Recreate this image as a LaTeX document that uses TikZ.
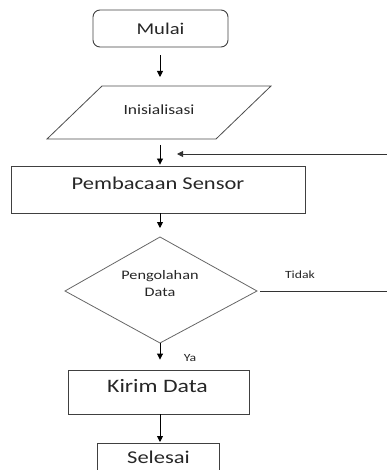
\documentclass[tikz,border=0pt]{standalone}
\usepackage{graphicx}
\usepackage{fontspec}
\setmainfont{Carlito}
\usetikzlibrary{arrows.meta,calc}
\newcommand{\wtxt}[2]{\fontsize{#1}{#1}\selectfont\scalebox{1.25}[1]{#2}}
\begin{document}
\begin{tikzpicture}[x=1pt,y=-1pt,
  box/.style={draw=black!75,line width=0.9pt,inner sep=0pt},
  shapeline/.style={draw=black!70,line width=0.8pt},
  txt/.style={inner sep=0pt,text=black!85},
  flow/.style={draw=black,line width=0.9pt,-{Triangle[length=6pt,width=6pt]}}]
\useasboundingbox (0,0) rectangle (387,470);
% Mulai
\node[box,rounded corners=7pt,minimum width=135pt,minimum height=37pt,txt,draw=black!75] (mulai) at (160.5,28.5) {\wtxt{16.5}{Mulai}};
% Inisialisasi (parallelogram)
\coordinate (iniN) at (160,86);
\coordinate (iniS) at (160,139);
\draw[shapeline] (102,86) -- (271,86) -- (216,139) -- (47,139) -- cycle;
\node[txt,anchor=base] (ini) at (159,115) {\wtxt{14}{Inisialisasi}};
% Pembacaan Sensor
\node[box,minimum width=294pt,minimum height=47pt] (baca) at (158,189.5) {};
\node[txt,anchor=base] (bacat) at (158,189.3) {\wtxt{18}{Pembacaan Sensor}};
% Diamond
\coordinate (dN) at (160,237);
\coordinate (dW) at (65,291);
\coordinate (dE) at (257,291);
\coordinate (dS) at (160,343);
\draw[shapeline,draw=black!60] (dN) -- (dE) -- (dS) -- (dW) -- cycle;
\node[txt,anchor=base] (olah1) at (160,279.5) {\wtxt{13}{Pengolahan}};
\node[txt,anchor=base] (olah2) at (160,296.5) {\wtxt{13}{Data}};
% Kirim Data
\node[box,minimum width=181pt,minimum height=44pt] (kirim) at (158.5,392) {};
\node[txt,anchor=base] (kirimt) at (157.5,392.3) {\wtxt{19}{Kirim Data}};
% Selesai
\node[box,minimum width=122pt,minimum height=50pt,anchor=north] (selesai) at (158,443) {};
\node[txt,anchor=base] (selesait) at (158.5,463.5) {\wtxt{18}{Selesai}};
% labels
\node[txt,anchor=base] (tidak) at (300,278) {\wtxt{11}{Tidak}};
\node[txt,anchor=base] (ya) at (190,361) {\wtxt{11}{Ya}};
% connectors
\draw[flow,shorten <=8pt,shorten >=9pt] (mulai.south -| iniN) -- (iniN);
\draw[flow,shorten <=6pt,shorten >=1pt] (iniS) -- (baca.north -| iniS);
\draw[flow,shorten >=9pt] (baca.south -| dN) -- (dN);
\draw[flow,shorten >=10pt] (dS) -- (kirim.north -| dS);
\draw[flow,shorten >=1pt] (kirim.south -| dS) -- (selesai.north -| dS);
\coordinate (loopR) at (392,291);
\coordinate (loopEnd) at (177,154);
\draw[flow,draw=black!80] (dE) ++(3,0) -- (loopR) |- (loopEnd);
\end{tikzpicture}
\end{document}
